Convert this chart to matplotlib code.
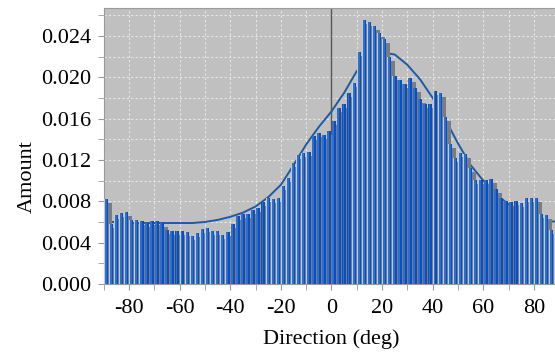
import numpy as np
import matplotlib.pyplot as plt
from matplotlib.ticker import FormatStrFormatter

plt.rcParams['font.family'] = ['Liberation Serif', 'DejaVu Serif']
plt.rcParams['axes.unicode_minus'] = False

# histogram bins (2 deg wide), centres from -89 to 89
bin_centers = list(range(-89, 90, 2))
amounts = [
    0.0082, 0.0058, 0.0067, 0.0069, 0.0070, 0.0062, 0.0062, 0.0061, 0.0059, 0.0061,
    0.0061, 0.0059, 0.0052, 0.0051, 0.0051, 0.0051, 0.0050, 0.0046, 0.0049, 0.0053,
    0.0054, 0.0051, 0.0051, 0.0047, 0.0050, 0.0058, 0.0066, 0.0068, 0.0068, 0.0072,
    0.0074, 0.0079, 0.0083, 0.0082, 0.0083, 0.0095, 0.0103, 0.0117, 0.0125, 0.0127,
    0.0128, 0.0143, 0.0146, 0.0144, 0.0148, 0.0158, 0.0170, 0.0174, 0.0185, 0.0194,
    0.0224, 0.0255, 0.0253, 0.0250, 0.0243, 0.0237, 0.0220, 0.0201, 0.0197, 0.0193,
    0.0199, 0.0190, 0.0179, 0.0174, 0.0174, 0.0187, 0.0185, 0.0162, 0.0135, 0.0122,
    0.0127, 0.0126, 0.0112, 0.0101, 0.0101, 0.0101, 0.0102, 0.0092, 0.0083, 0.0080,
    0.0079, 0.0080, 0.0078, 0.0083, 0.0083, 0.0083, 0.0068, 0.0067, 0.0052, 0.0048,
]

# fitted curve, read every 5 deg
fit_x = list(range(-90, 91, 5))
fit_y = [
    0.0060, 0.0060, 0.0059, 0.0059, 0.0059, 0.0059, 0.0059, 0.0059, 0.0060, 0.0062,
    0.0065, 0.0069, 0.0075, 0.0084, 0.0096, 0.0115, 0.0135, 0.0152, 0.0167, 0.0185,
    0.0206, 0.0218, 0.0224, 0.0222, 0.0212, 0.0198, 0.0180, 0.0159, 0.0136, 0.0115,
    0.0100, 0.0087, 0.0077, 0.0069, 0.0064, 0.0061, 0.0060,
]

fig = plt.figure(figsize=(5.55, 3.54), dpi=100)
ax = fig.add_axes([103.8 / 555, 1 - 284 / 354, 455.4 / 555, 276 / 354])
ax.set_facecolor('#c0c0c0')

x = np.array(bin_centers, dtype=float)
h = np.array(amounts)
left = x - 1 + 0.1
bw = 1.6
dx = 4 / 2.53          # shadow offset, 4 px
dy = 4 / 10330.0

# shadows first, then the bars
ax.bar(left + dx, h - dy, width=bw, align='edge', color='#7c7c7c', zorder=2, linewidth=0)
ax.bar(left, h, width=bw, align='edge', color='#0f4fb4', zorder=3, linewidth=0)
ax.bar(left + 0.25, h, width=0.75, align='edge', color='#2a6fd8', zorder=3, linewidth=0)
ax.bar(left, h, width=0.22, align='edge', color='#b9cdea', zorder=3, linewidth=0)

ax.plot(fit_x, fit_y, color='#1c5aa8', lw=1.4, zorder=1.8)
ax.axvline(0, color='#555555', lw=1, zorder=1.5)

ax.set_xlim(-90, 90)
ax.set_ylim(0, 0.0267)

ax.set_xticks(range(-80, 81, 20))
ax.set_xticks(range(-90, 91, 20), minor=True)
ax.set_yticks(np.arange(0, 0.0245, 0.004))
ax.set_yticks(np.arange(0.002, 0.0265, 0.004), minor=True)
ax.yaxis.set_major_formatter(FormatStrFormatter('%.3f'))

ax.grid(True, which='both', color='#e6e6e6', linestyle=(0, (2, 2)), lw=0.8, zorder=0)
ax.set_axisbelow(True)

for s in ax.spines.values():
    s.set_color('#9a9a9a')
ax.tick_params(which='both', direction='out', length=4, color='#9a9a9a', labelsize=16)
ax.tick_params(axis='x', pad=7)
ax.tick_params(axis='y', pad=5)

ax.set_xlabel('Direction (deg)', fontsize=16)
ax.set_ylabel('Amount', fontsize=16)
ax.xaxis.set_label_coords(0.5, -0.165)
ax.yaxis.set_label_coords(-0.148, 0.39)

fig.savefig('out.png', dpi=100)
